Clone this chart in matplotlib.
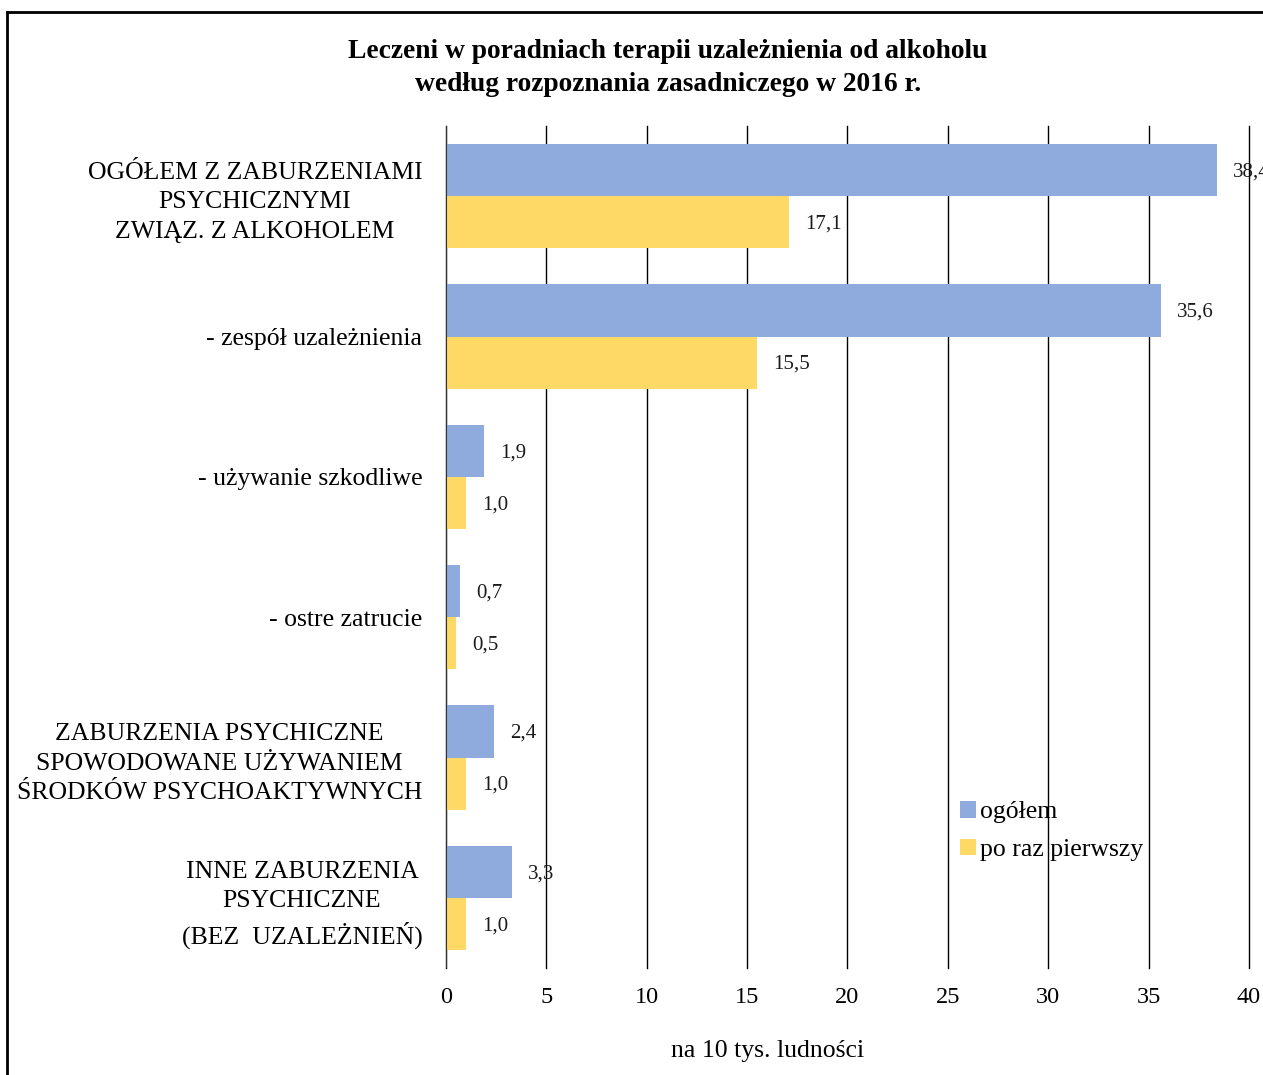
import matplotlib.pyplot as plt
from matplotlib.lines import Line2D
import numpy as np

plt.rcParams['font.family'] = ['Liberation Serif', 'DejaVu Serif']

# categories and values (per 10 thousand population)
categories = [
    "OGÓŁEM Z ZABURZENIAMI\nPSYCHICZNYMI\nZWIĄZ. Z ALKOHOLEM",
    "- zespół uzależnienia",
    "- używanie szkodliwe",
    "- ostre zatrucie",
    "ZABURZENIA PSYCHICZNE\nSPOWODOWANE UŻYWANIEM\nŚRODKÓW PSYCHOAKTYWNYCH",
    "INNE ZABURZENIA\nPSYCHICZNE\n(BEZ  UZALEŻNIEŃ)",
]
ogolem = [38.4, 35.6, 1.9, 0.7, 2.4, 3.3]
pierwszy = [17.1, 15.5, 1.0, 0.5, 1.0, 1.0]
series_names = ["ogółem", "po raz pierwszy"]
xticks = [0, 5, 10, 15, 20, 25, 30, 35, 40]

blue = "#8faadc"
yellow = "#ffd966"

fig = plt.figure(figsize=(12.63, 10.75), dpi=100)
ax = fig.add_axes([446 / 1263, 107 / 1075, 803 / 1263, 842 / 1075])

y = np.arange(len(categories))
h = 0.371
b1 = ax.barh(y - h / 2, ogolem, height=h, color=blue, label=series_names[0], zorder=3)
b2 = ax.barh(y + h / 2, pierwszy, height=h, color=yellow, label=series_names[1], zorder=3)

for bars, vals in ((b1, ogolem), (b2, pierwszy)):
    for bar, v in zip(bars, vals):
        ax.annotate(f"{v:.1f}".replace(".", ","),
                    (v, bar.get_y() + bar.get_height() / 2),
                    xytext=(16, -2), textcoords="offset pixels",
                    ha="left", va="center", fontsize=15, color="#1a1a1a",
                    annotation_clip=False, zorder=5)

ax.set_xlim(0, 40)
ax.set_ylim(len(categories) - 0.5, -0.5)
ax.set_xticks(xticks)
ax.set_xticklabels([str(t) for t in xticks], fontsize=17.5)
ax.set_yticks(y)
ax.set_yticklabels(categories, fontsize=18.5, multialignment="center", linespacing=1.43)
ax.tick_params(axis="both", length=0)
ax.tick_params(axis="x", pad=14)
ax.tick_params(axis="y", pad=17)
for s in ax.spines.values():
    s.set_visible(False)
ax.grid(axis="x", color="black", linewidth=1.0, zorder=0)
for gl in ax.get_xgridlines():
    gl.set_clip_on(False)
ax.axvline(0, color="#333333", linewidth=1.5, zorder=4)

ax.legend(loc="upper left", bbox_to_anchor=(950 / 1263, 1 - 791 / 1075),
          bbox_transform=fig.transFigure, frameon=False, fontsize=18.5,
          handlelength=0.6, handleheight=0.6, handletextpad=0.15,
          labelspacing=0.6, borderaxespad=0)

fig.text(668 / 1263, 1 - 68 / 1075,
         "Leczeni w poradniach terapii uzależnienia od alkoholu\n"
         "według rozpoznania zasadniczego w 2016 r.",
         ha="center", va="center", fontsize=19.8, fontweight="bold",
         linespacing=1.45)
fig.text(768 / 1263, 1 - 1051 / 1075, "na 10 tys. ludności",
         ha="center", va="center", fontsize=18.5)

# outer frame (left and top edges visible)
fig.add_artist(Line2D([7 / 1263, 7 / 1263], [0, 1 - 12 / 1075],
                      transform=fig.transFigure, color="black", linewidth=2))
fig.add_artist(Line2D([7 / 1263, 1], [1 - 12 / 1075, 1 - 12 / 1075],
                      transform=fig.transFigure, color="black", linewidth=2))

fig.savefig("out.png", dpi=100)
